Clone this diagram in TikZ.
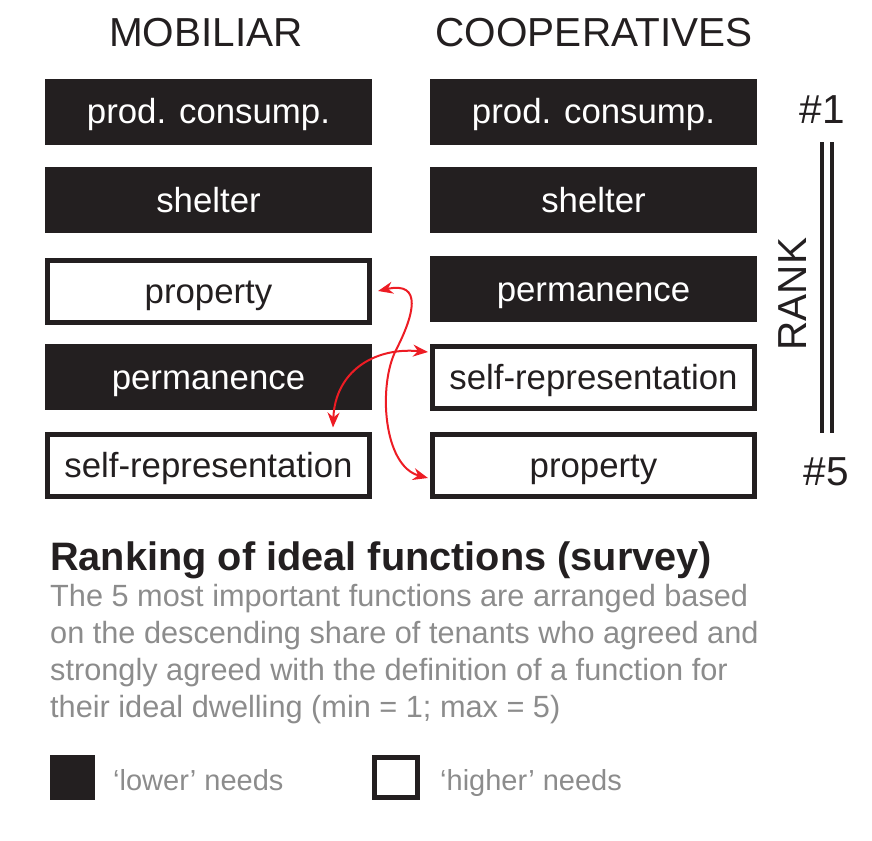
\documentclass[tikz,border=0pt]{standalone}
\usepackage{fontspec}
\setmainfont{Liberation Sans}
\usetikzlibrary{calc}
\usetikzlibrary{arrows.meta}

\definecolor{boxblack}{RGB}{35,31,32}
\definecolor{swapred}{RGB}{237,28,36}
\definecolor{notegray}{RGB}{140,140,140}

\begin{document}
\begin{tikzpicture}[x=1pt, y=-1pt,
    lowerbox/.style={fill=boxblack, text=white, minimum width=327pt, minimum height=66pt,
      inner sep=0pt, text height=31pt, text depth=7pt, font=\fontsize{34.8}{38}\selectfont},
    higherbox/.style={draw=boxblack, line width=5pt, fill=white, text=boxblack,
      minimum width=322pt, minimum height=62pt, inner sep=0pt, text height=31pt, text depth=7pt,
      font=\fontsize{34.8}{38}\selectfont},
    head/.style={text=boxblack, font=\fontsize{40.5}{42}\selectfont},
    swap/.style={draw=swapred, line width=2pt, {Stealth[length=15pt,width=12pt]}-{Stealth[length=15pt,width=12pt]}}]

    \useasboundingbox (0,0) rectangle (872,840);

    % draw column headers
    \node[head] (mobhead) at (206,33) {MOBILIAR};
    \node[head] (coophead) at (594,33) {COOPERATIVES};

    % draw ranked boxes, mobiliar
    \node[lowerbox]  (prodL) at (208.5,112) {prod. consump.};
    \node[lowerbox]  (shelL) at (208.5,200) {shelter};
    \node[higherbox] (propL) at (208.5,291) {property};
    \node[lowerbox]  (permL) at (208.5,377) {permanence};
    \node[higherbox] (selfL) at (208.5,465) {self-representation};

    % draw ranked boxes, cooperatives
    \node[lowerbox]  (prodR) at (593.5,112) {prod. consump.};
    \node[lowerbox]  (shelR) at (593.5,200) {shelter};
    \node[lowerbox]  (permR) at (593.5,289) {permanence};
    \node[higherbox] (selfR) at (593.5,377) {self-representation};
    \node[higherbox] (propR) at (593.5,465) {property};

    % draw swaps
    \draw[swap] ($(propL.east)+(6,0)$) .. controls +(45,-10) and +(18,-35) .. (396,350)
      .. controls +(-18,35) and +(-45,-12) .. ($(propR.west)+(-2,13)$);
    \draw[swap] ($(selfL.north east)+(-39,-4)$) .. controls +(2,-55) and +(-55,-5) .. ($(selfR.west)+(-2,-25)$);

    % draw rank scale
    \node[head] (top) at (822,110) {\#1};
    \node[head] (bottom) at (826,472) {\#5};
    \foreach \x in {822,832}
      \draw[boxblack, line width=4pt] (\x,142) -- (\x,433);
    \node[head, rotate=90] (rank) at (793,294) {RANK};

    % draw caption
    \node[anchor=base west, text=boxblack, inner sep=0pt, font=\fontsize{39.7}{42}\selectfont\bfseries]
      (title) at (50,570) {Ranking of ideal functions (survey)};
    \node[anchor=base west, text=notegray, inner sep=0pt, align=left,
      font=\fontsize{30.7}{37}\selectfont] (note) at (50,717)
      {The 5 most important functions are arranged based\\
       on the descending share of tenants who agreed and\\
       strongly agreed with the definition of a function for\\
       their ideal dwelling (min = 1; max = 5)};

    % draw legend
    \node[lowerbox, minimum width=45pt, minimum height=45pt] (keylow) at (72.5,777.5) {};
    \node[higherbox, minimum width=43pt, minimum height=40pt] (keyhigh) at (396,777.5) {};
    \node[anchor=base west, inner sep=0pt, text=notegray, font=\fontsize{29}{32}\selectfont] (keylowtext) at (113,790) {`lower' needs};
    \node[anchor=base west, inner sep=0pt, text=notegray, font=\fontsize{29}{32}\selectfont] (keyhightext) at (440,790) {`higher' needs};
  \end{tikzpicture}
\end{document}
